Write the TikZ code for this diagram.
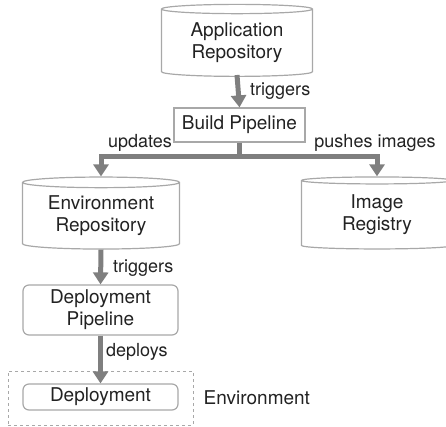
\documentclass[tikz,border=0pt]{standalone}
\usepackage{fontspec}
\setmainfont{TeX Gyre Heros}
\usepackage{tikz}
\usetikzlibrary{shapes,arrows,positioning,calc,arrows.meta}

\definecolor{txtgray}{HTML}{222222}
\definecolor{boxgray}{HTML}{A8A8A8}
\definecolor{arrgray}{HTML}{7F7F7F}

\begin{document}
\begin{tikzpicture}[
    x=1pt, y=-1pt,
    every node/.style={text=txtgray, font=\fontsize{19}{22}\selectfont},
    repo/.style={cylinder, shape border rotate=90, draw=boxgray, line width=1.2pt, aspect=0.1, align=center, inner sep=0pt},
    pipe/.style={rectangle, draw=boxgray, line width=1.2pt, align=center, inner sep=0pt},
    flow/.style={draw=arrgray, line width=5pt, -{Triangle[width=15pt,length=12pt]}},
    lbl/.style={font=\fontsize{18}{21}\selectfont, inner sep=0pt}
]
    \useasboundingbox (0,0) rectangle (446,427);

    \node[repo, minimum width=151pt, minimum height=72pt] (app) at (237,43) {Application\\Repository};
    \node[pipe, minimum width=131pt, minimum height=34pt] (build) at (239.5,125) {Build Pipeline};
    \node[repo, minimum width=157pt, minimum height=72pt] (envrepo) at (101,216) {Environment\\Repository};
    \node[repo, minimum width=151pt, minimum height=72pt] (registry) at (377,215) {Image\\Registry};
    \node[pipe, rounded corners=6pt, minimum width=155pt, minimum height=50pt] (deploypipe) at (100.5,310) {Deployment\\Pipeline};
    \node[draw=boxgray, dashed, line width=1pt, minimum width=185pt, minimum height=54pt] (envbox) at (100.5,398) {};
    \node[pipe, rounded corners=6pt, minimum width=155pt, minimum height=26pt] (deployment) at (100.5,397) {Deployment};
    \node[right=10pt of envbox, inner sep=0pt] (envlabel) {Environment};

    \draw[flow] (app.bottom |- 0,75) -- (build.north);
    \coordinate (split) at (239.5,157);
    \draw[draw=arrgray, line width=5pt] (build.south) -- (split);
    \draw[flow] (split) -| (envrepo.top);
    \draw[flow] (split) -| (registry.top);
    \draw[flow] (envrepo.bottom) -- (deploypipe.north);
    \draw[flow] (deploypipe.south) -- (deployment.north);

    \node[lbl, anchor=west] at (250,91) {triggers};
    \node[lbl, anchor=east] at (172,143) {updates};
    \node[lbl] at (375,143) {pushes images};
    \node[lbl, anchor=west] at (113,268) {triggers};
    \node[lbl, anchor=west] at (106,352) {deploys};
\end{tikzpicture}
\end{document}
